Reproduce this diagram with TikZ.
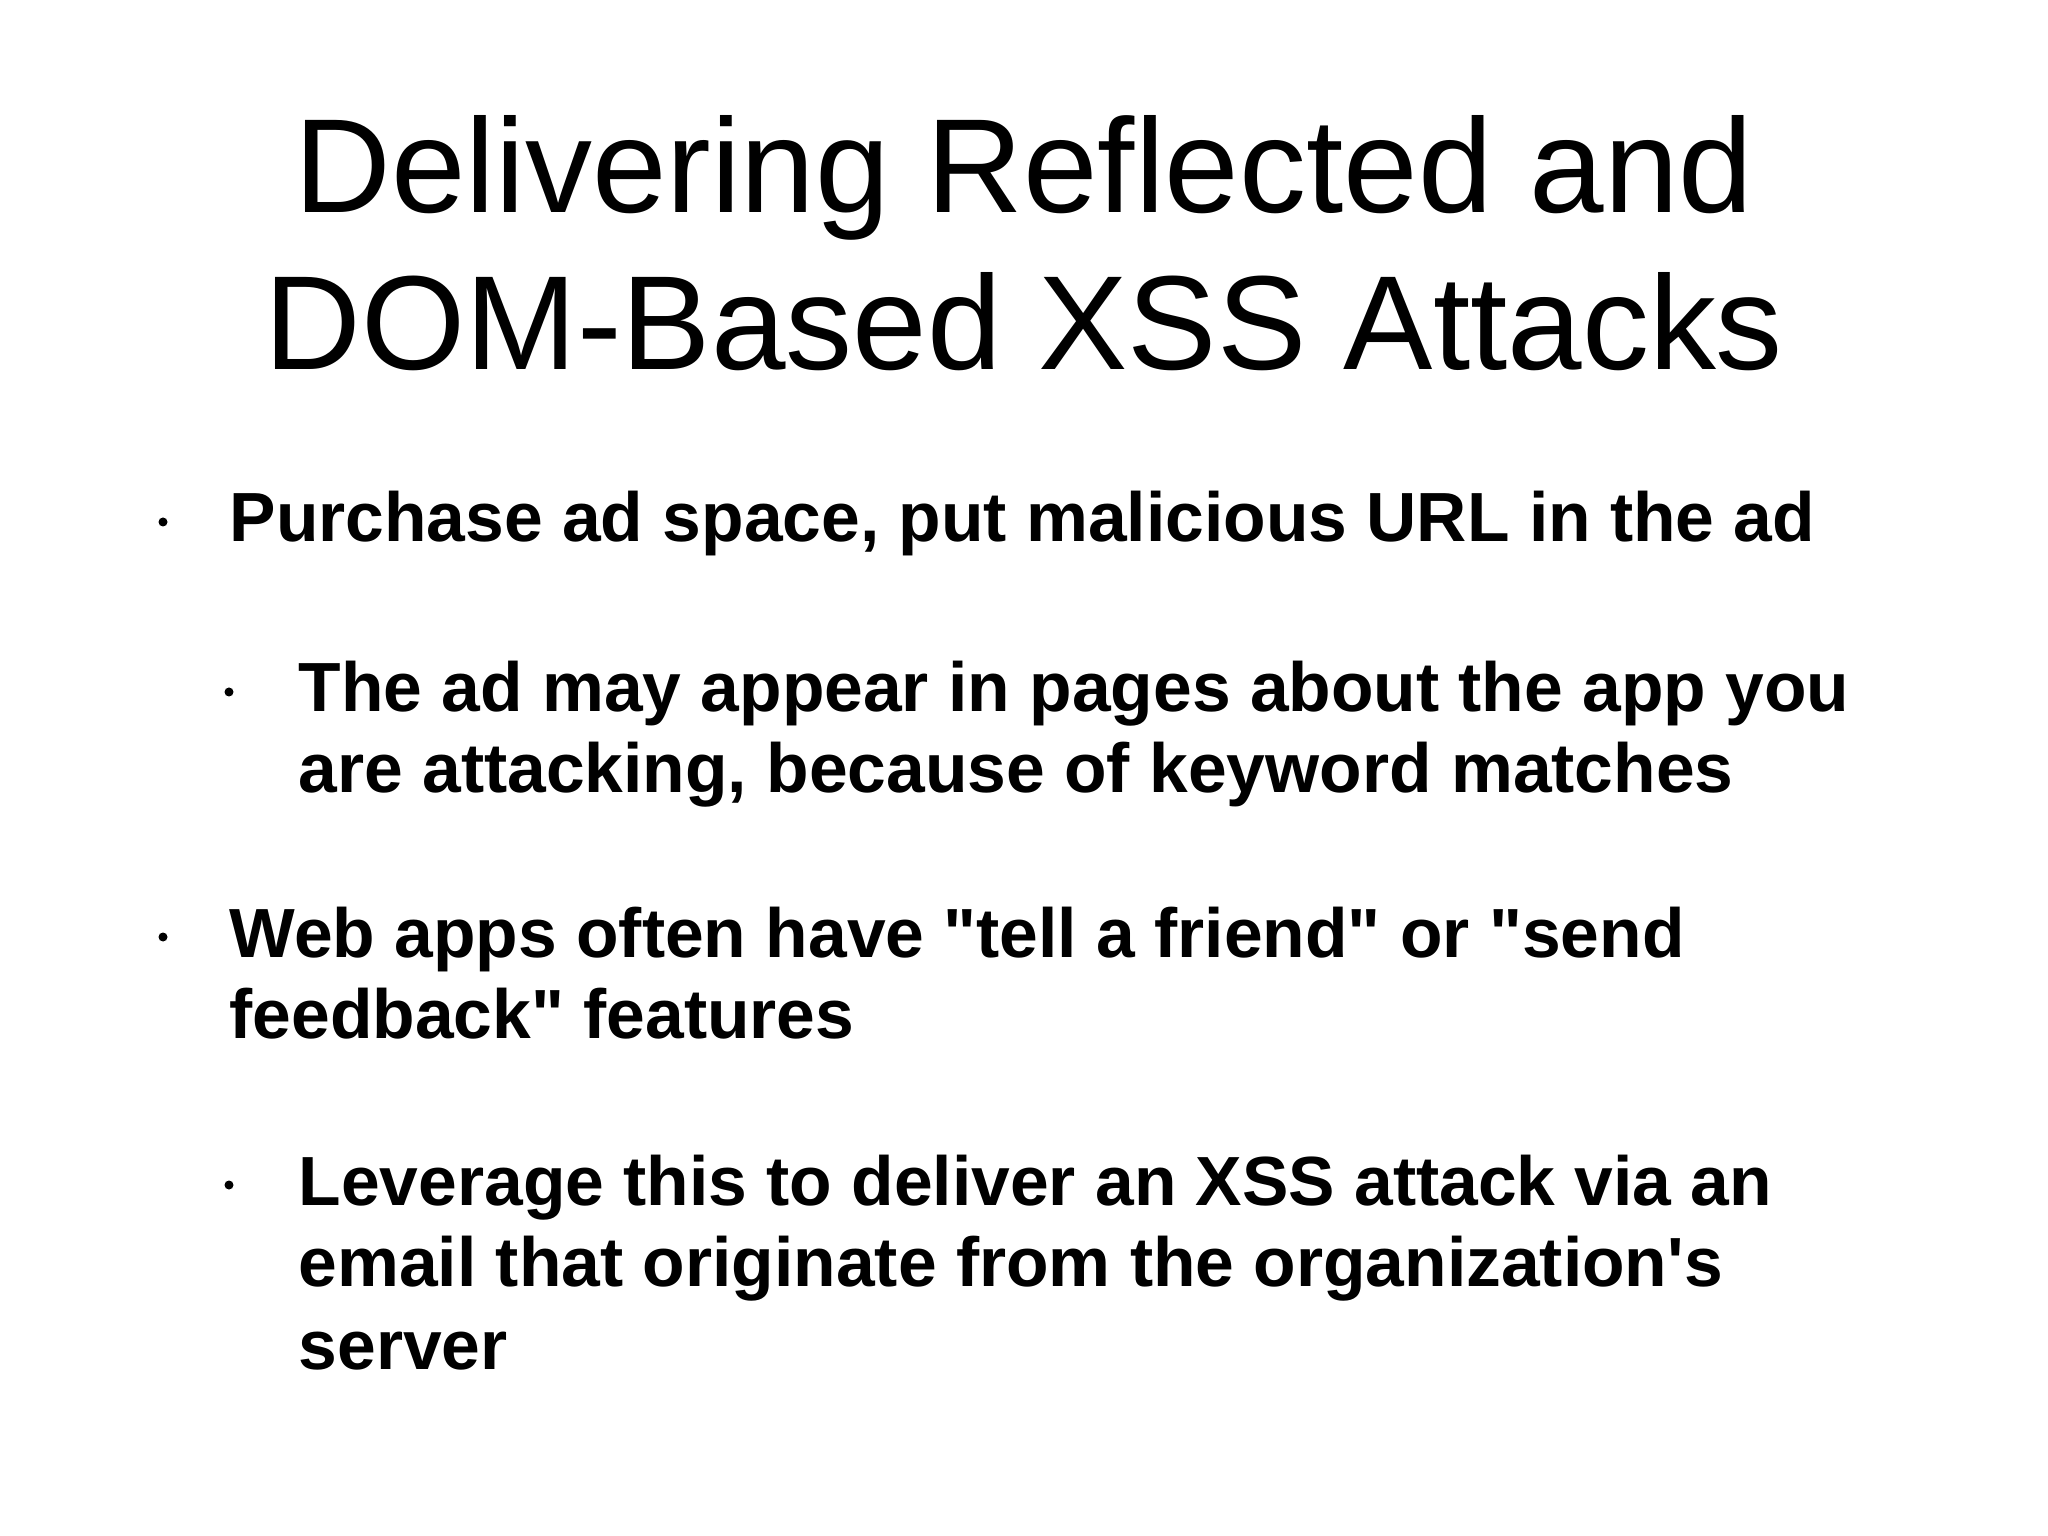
\documentclass[tikz,border=0pt]{standalone}
\usepackage{fontspec}
\setmainfont{Liberation Sans}
\newfontfamily\pf{Liberation Sans}
\begin{document}
\begin{tikzpicture}[x=1cm,y=1cm,
  title/.style={anchor=base,font=\fontsize{38.1}{44}\selectfont,inner sep=0pt},
  txt/.style={anchor=base west,font=\fontsize{19.8}{24}\pf\selectfont\bfseries,inner sep=0pt},
  dot/.style={circle,fill=black,inner sep=0pt,minimum size=0.09cm}]
\useasboundingbox[fill=white] (0,0) rectangle (20.48,-15.36);
\node[title] (t1) at (10.24,-2.13) {Delivering Reflected and};
\node[title] (t2) at (10.24,-3.70) {DOM-Based XSS Attacks};
\node[dot] (d1) at (1.63,-5.22) {};
\node[txt] (l1) at (2.29,-5.42) {Purchase ad space, put malicious URL in the ad};
\node[dot] (d2) at (2.29,-6.92) {};
\node[txt] (l2) at (2.98,-7.12) {The ad may appear in pages about the app you};
\node[txt] (l3) at (2.98,-7.93) {are attacking, because of keyword matches};
\node[dot] (d3) at (1.63,-9.37) {};
\node[txt] (l4) at (2.29,-9.57) {Web apps often have "tell a friend" or "send};
\node[txt] (l5) at (2.29,-10.38) {feedback" features};
\node[dot] (d4) at (2.29,-11.85) {};
\node[txt] (l6) at (2.98,-12.05) {Leverage this to deliver an XSS attack via an};
\node[txt] (l7) at (2.98,-12.86) {email that originate from the organization's};
\node[txt] (l8) at (2.98,-13.69) {server};
\end{tikzpicture}
\end{document}
